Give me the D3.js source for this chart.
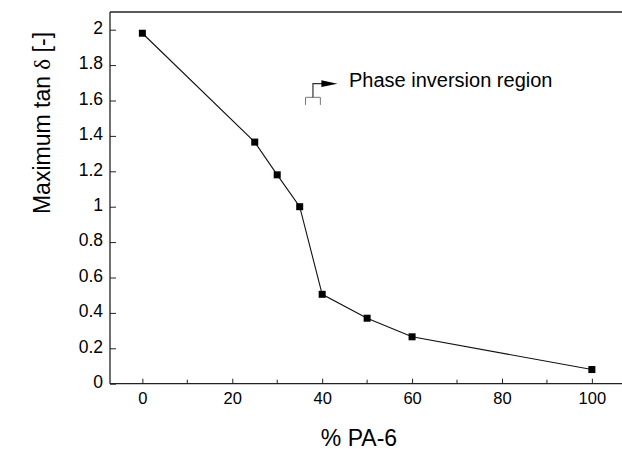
<!DOCTYPE html>
<html>
<head>
<meta charset="utf-8">
<script src="https://cdn.jsdelivr.net/npm/d3@7/dist/d3.min.js"></script>
<style>
  html, body { margin: 0; padding: 0; background: #fff; }
  svg { display: block; }
  text { font-family: "Liberation Sans", Arial, Helvetica, sans-serif; fill: #000; }
</style>
</head>
<body>
<svg id="chart" width="622" height="449"></svg>
<script>
// PA-6 content in the blend (%) and the maximum of tan delta
const pa6Content = [0, 25, 30, 35, 40, 50, 60, 100];
const maxTanDelta = [1.98, 1.365, 1.18, 1.0, 0.505, 0.37, 0.265, 0.08];

const xTicks = [0, 20, 40, 60, 80, 100];
const xMinorTicks = [10, 30, 50, 70, 90];
const yTicks = [0, 0.2, 0.4, 0.6, 0.8, 1, 1.2, 1.4, 1.6, 1.8, 2];
const yTickLabels = ["0", "0.2", "0.4", "0.6", "0.8", "1", "1.2", "1.4", "1.6", "1.8", "2"];

const svg = d3.select("#chart");
const plotLeft = 110, plotRight = 622, plotTop = 12, plotBottom = 383.7;

const x = d3.scaleLinear().domain([-7.2, 106.7]).range([plotLeft, plotRight]);
const y = d3.scaleLinear().domain([0, 2.1]).range([plotBottom, plotTop]);

// frame: top, left and bottom lines
svg.append("line").attr("x1", plotLeft).attr("x2", plotRight).attr("y1", plotTop).attr("y2", plotTop)
  .attr("stroke", "#222").attr("stroke-width", 1.3);

// x axis with inward ticks
const xAxis = d3.axisBottom(x).tickValues(xTicks).tickSizeInner(-5).tickSizeOuter(0)
  .tickPadding(9).tickFormat(d3.format("d"));
const gx = svg.append("g").attr("transform", `translate(0,${plotBottom})`).call(xAxis);
gx.select(".domain").attr("d", `M${plotLeft},0H${plotRight}`).attr("stroke", "#222").attr("stroke-width", 1.3);
gx.selectAll(".tick line").attr("stroke", "#222");
gx.selectAll(".tick text").attr("font-size", 16.5).attr("font-family", "Liberation Sans, Arial, sans-serif").attr("fill", "#000");
gx.selectAll(".minor").data(xMinorTicks).enter().append("line")
  .attr("class", "minor")
  .attr("x1", d => x(d)).attr("x2", d => x(d)).attr("y1", 0).attr("y2", -4)
  .attr("stroke", "#222");

// y axis with inward ticks
const yAxis = d3.axisLeft(y).tickValues(yTicks).tickSizeInner(-6).tickSizeOuter(0)
  .tickPadding(7).tickFormat((d, i) => yTickLabels[i]);
const gy = svg.append("g").attr("transform", `translate(${plotLeft},0)`).call(yAxis);
gy.select(".domain").attr("d", `M0,${plotTop}V${plotBottom}`).attr("stroke", "#222").attr("stroke-width", 1.3);
gy.selectAll(".tick line").attr("stroke", "#222");
gy.selectAll(".tick text").attr("font-size", 17.5).attr("dy", "0.22em")
  .attr("font-family", "Liberation Sans, Arial, sans-serif").attr("fill", "#000");

// axis titles
svg.append("text").attr("x", 359).attr("y", 445.5).attr("text-anchor", "middle")
  .attr("font-size", 23).text("% PA-6");

const yTitle = svg.append("text")
  .attr("transform", "translate(50,123) rotate(-90)")
  .attr("text-anchor", "middle").attr("font-size", 23);
yTitle.append("tspan").text("Maximum tan ");
yTitle.append("tspan").attr("font-family", "Liberation Serif, Times New Roman, serif").text("δ");
yTitle.append("tspan").text(" [-]");

// data line and square markers
const line = d3.line().x(d => x(d[0])).y(d => y(d[1]));
const pts = d3.zip(pa6Content, maxTanDelta);
svg.append("path").datum(pts).attr("d", line)
  .attr("fill", "none").attr("stroke", "#111").attr("stroke-width", 1.1);
const ms = 7;
svg.selectAll(".pt").data(pts).enter().append("rect")
  .attr("class", "pt")
  .attr("x", d => x(d[0]) - ms / 2).attr("y", d => y(d[1]) - ms / 2)
  .attr("width", ms).attr("height", ms).attr("fill", "#000");

// phase inversion annotation: bracket, stem and arrow
const bx0 = x(36.3), bx1 = x(39.6), bxm = (bx0 + bx1) / 2;
const byTop = y(1.618), byLeg = y(1.575), byArrow = y(1.695);
svg.append("path")
  .attr("d", `M${bx0},${byLeg}V${byTop}H${bx1}V${byLeg}`)
  .attr("fill", "none").attr("stroke", "#777").attr("stroke-width", 1);
svg.append("path")
  .attr("d", `M${bxm},${byTop}V${byArrow}H${bx1 + 2}`)
  .attr("fill", "none").attr("stroke", "#333").attr("stroke-width", 1.2);
const tipX = x(43.4);
svg.append("path")
  .attr("d", `M${bx1 + 1},${byArrow - 3.4}L${tipX},${byArrow}L${bx1 + 1},${byArrow + 3.4}Z`)
  .attr("fill", "#000");
svg.append("text").attr("x", 349).attr("y", 87).attr("font-size", 20)
  .text("Phase inversion region");
</script>
</body>
</html>
